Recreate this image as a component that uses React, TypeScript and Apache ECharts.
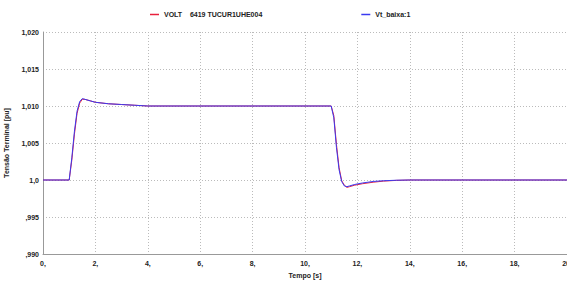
import React, { useEffect, useRef } from "react";
import * as echarts from "echarts";

const timeS = [0, 1.0, 1.1, 1.2, 1.3, 1.4, 1.5, 1.6, 1.8, 2.0, 2.5, 3.0, 3.5, 4.0, 5.0, 11.0, 11.1, 11.2, 11.3, 11.4, 11.5, 11.6, 11.7, 11.9, 12.2, 12.6, 13.0, 13.5, 14.0, 20];
const voltRed = [1.0, 1.0, 1.0027, 1.0062, 1.009, 1.0104, 1.0109, 1.0109, 1.0107, 1.0105, 1.0103, 1.0102, 1.0101, 1.01, 1.01, 1.01, 1.0087, 1.0048, 1.0017, 0.9999, 0.9993, 0.999, 0.9991, 0.9993, 0.9995, 0.9997, 0.99985, 0.99995, 1.0, 1.0];
const vtBlue = [1.0, 1.0, 1.003, 1.0066, 1.0093, 1.0106, 1.011, 1.0109, 1.0107, 1.0105, 1.0103, 1.0102, 1.0101, 1.01, 1.01, 1.01, 1.0084, 1.0044, 1.0014, 0.9998, 0.9992, 0.9991, 0.9992, 0.9994, 0.9996, 0.9998, 0.9999, 0.99997, 1.0, 1.0];
const yTickLabels: Record<string, string> = {
  "0.99": ",990",
  "0.995": ",995",
  "1": "1,0",
  "1.005": "1,005",
  "1.01": "1,010",
  "1.015": "1,015",
  "1.02": "1,020",
};
const redName = "VOLT    6419 TUCUR1UHE004";
const blueName = "Vt_baixa:1";

export default function App() {
  const ref = useRef<HTMLDivElement>(null);
  useEffect(() => {
    if (!ref.current) return;
    const chart = echarts.init(ref.current, undefined, { renderer: "svg" });
    const font = "Liberation Sans, Arial, sans-serif";
    chart.setOption({
      animation: false,
      backgroundColor: "#ffffff",
      textStyle: { fontFamily: font },
      legend: {
        top: 6,
        left: 145,
        itemGap: 99,
        itemWidth: 9,
        itemHeight: 1.5,
        icon: "rect",
        textStyle: { fontSize: 7, fontWeight: "bold", color: "#222", fontFamily: font, padding: [0, 0, 0, 0] },
        data: [redName, blueName],
      },
      grid: { left: 43, right: 0, top: 32, bottom: 28, containLabel: false, outerBoundsMode: "none" },
      xAxis: {
        type: "value",
        min: 0,
        max: 20,
        interval: 2,
        name: "Tempo [s]",
        nameLocation: "middle",
        nameGap: 17,
        nameTextStyle: { fontSize: 7, fontWeight: "bold", color: "#222" },
        axisLine: { show: true, lineStyle: { color: "#999", width: 1 } },
        axisTick: { show: false },
        axisLabel: {
          fontSize: 7,
          fontWeight: "bold",
          color: "#222",
          margin: 6,
          formatter: (v: number) => `${v},`,
        },
        splitLine: { show: true, lineStyle: { color: "#bbb", type: [1, 2], width: 1 } },
      },
      yAxis: {
        type: "value",
        min: 0.99,
        max: 1.02,
        interval: 0.005,
        name: "Tensão Terminal [pu]",
        nameLocation: "middle",
        nameGap: 33,
        nameRotate: 90,
        nameTextStyle: { fontSize: 7, fontWeight: "bold", color: "#222" },
        axisLine: { show: true, lineStyle: { color: "#999", width: 1 } },
        axisTick: { show: false },
        axisLabel: {
          fontSize: 7,
          fontWeight: "bold",
          color: "#222",
          margin: 4,
          formatter: (v: number) => yTickLabels[String(Math.round(v * 1000) / 1000)] ?? "",
        },
        splitLine: { show: true, lineStyle: { color: "#bbb", type: [1, 2], width: 1 } },
      },
      series: [
        {
          name: redName,
          type: "line",
          symbol: "none",
          color: "#e8203c",
          lineStyle: { width: 1 },
          data: timeS.map((t, i) => [t, voltRed[i]]),
        },
        {
          name: blueName,
          type: "line",
          symbol: "none",
          color: "#3a3af0",
          lineStyle: { width: 1 },
          data: timeS.map((t, i) => [t, vtBlue[i]]),
        },
      ],
    });
    return () => chart.dispose();
  }, []);
  return (
    <div
      ref={ref}
      style={{ position: "fixed", left: 0, top: 0, width: 567, height: 282 }}
    />
  );
}
